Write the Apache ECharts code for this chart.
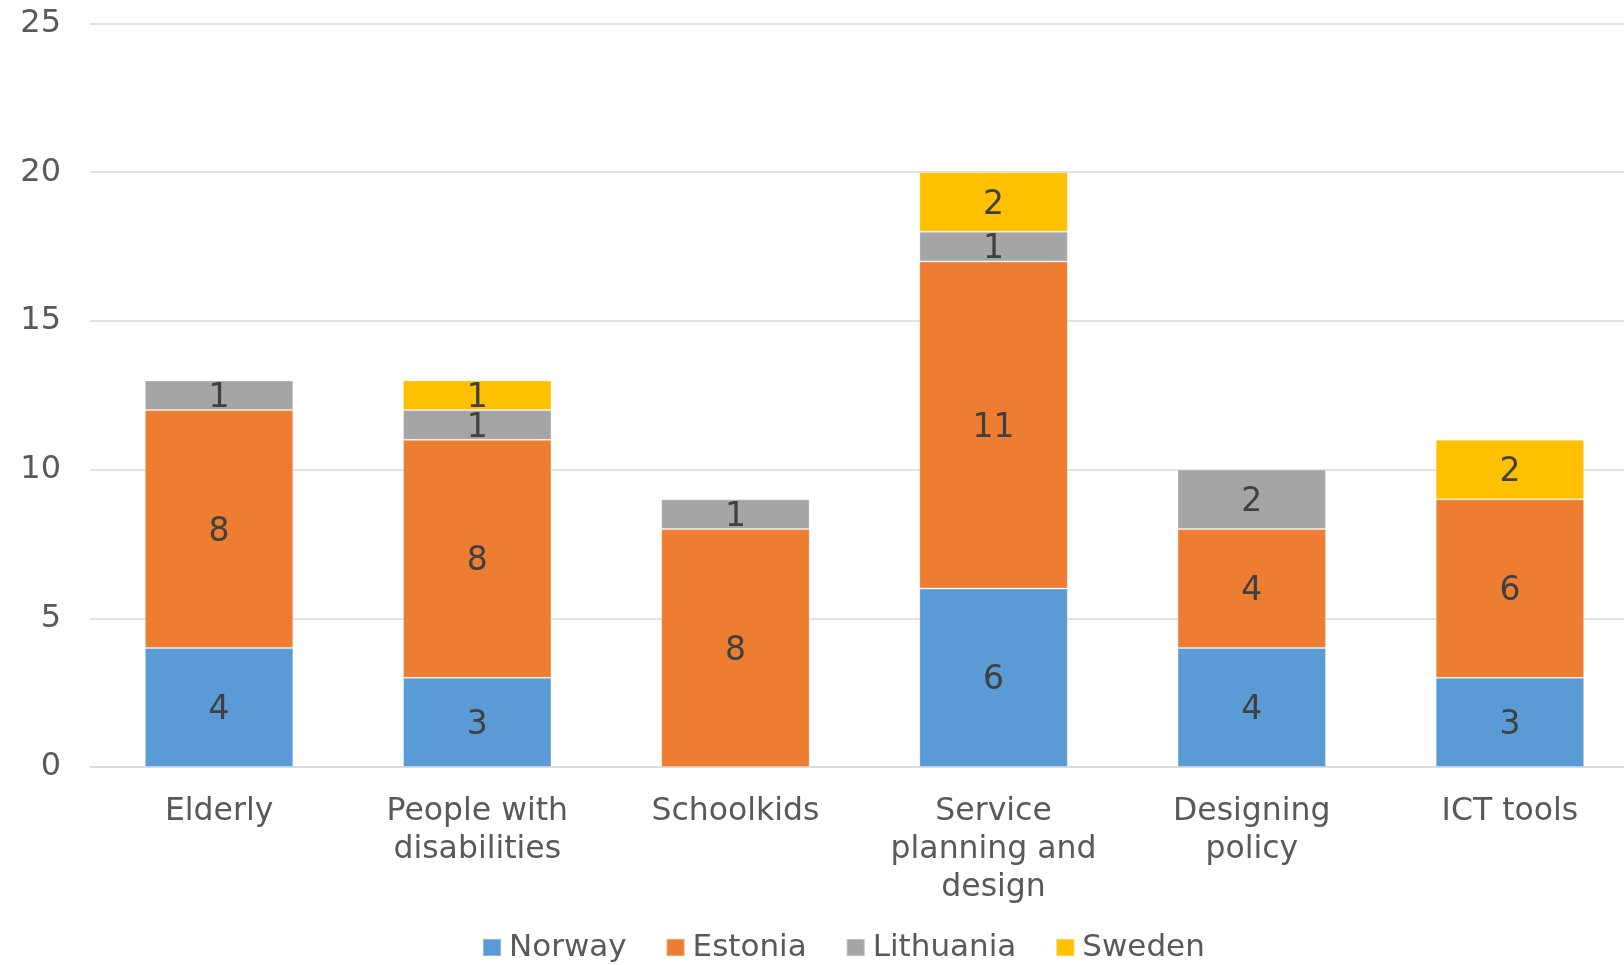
<!DOCTYPE html>
<html>
<head>
<meta charset="utf-8">
<script src="https://cdn.jsdelivr.net/npm/echarts@6/dist/echarts.min.js"></script>
<style>html,body{margin:0;padding:0;background:#fff}#c{width:1624px;height:965px}</style>
</head>
<body>
<div id="c"></div>
<script>
const categories = ["Elderly", "People with\ndisabilities", "Schoolkids", "Service\nplanning and\ndesign", "Designing\npolicy", "ICT tools"];
const norway = [4, 3, 0, 6, 4, 3];
const estonia = [8, 8, 8, 11, 4, 6];
const lithuania = [1, 1, 1, 1, 2, 0];
const sweden = [0, 1, 0, 2, 0, 2];
const seriesNames = ["Norway", "Estonia", "Lithuania", "Sweden"];
const colors = ["#5B9BD5", "#ED7D31", "#A5A5A5", "#FFC000"];
const yMin = 0, yMax = 25, yStep = 5;

const font = "'DejaVu Sans', Verdana, sans-serif";
const chart = echarts.init(document.getElementById('c'), null, {renderer: 'canvas'});
const mk = (name, data, i) => ({
  name, type: 'bar', stack: 'total', barWidth: '57.5%',
  data: data.map(v => v === 0 ? null : v),
  itemStyle: {color: colors[i], borderColor: 'rgba(255,255,255,0.3)', borderWidth: 1},
  label: {show: true, position: 'inside', offset: [0, 3], fontFamily: font, fontSize: 33, color: '#404040'},
  emphasis: {disabled: true}
});
chart.setOption({
  animation: false,
  grid: {left: 90, width: 1549, top: 23.5, bottom: 198, containLabel: false, outerBoundsMode: 'none'},
  legend: {
    data: seriesNames, left: 482, top: 932, padding: 0, icon: 'rect',
    itemWidth: 18, itemHeight: 17, itemGap: 39,
    textStyle: {fontFamily: font, fontSize: 31, color: '#595959', padding: [0, 0, 0, 3]}
  },
  xAxis: {
    type: 'category', data: categories,
    axisLine: {lineStyle: {color: '#D9D9D9', width: 1.5}},
    axisTick: {show: false},
    axisLabel: {fontFamily: font, fontSize: 31.5, color: '#595959', margin: 26, lineHeight: 38, interval: 0}
  },
  yAxis: {
    type: 'value', min: yMin, max: yMax, interval: yStep,
    axisLine: {show: false}, axisTick: {show: false},
    splitLine: {lineStyle: {color: '#D9D9D9', width: 1.5}},
    axisLabel: {fontFamily: font, fontSize: 32, color: '#595959', margin: 29}
  },
  series: [mk(seriesNames[0], norway, 0), mk(seriesNames[1], estonia, 1), mk(seriesNames[2], lithuania, 2), mk(seriesNames[3], sweden, 3)]
});
</script>
</body>
</html>
